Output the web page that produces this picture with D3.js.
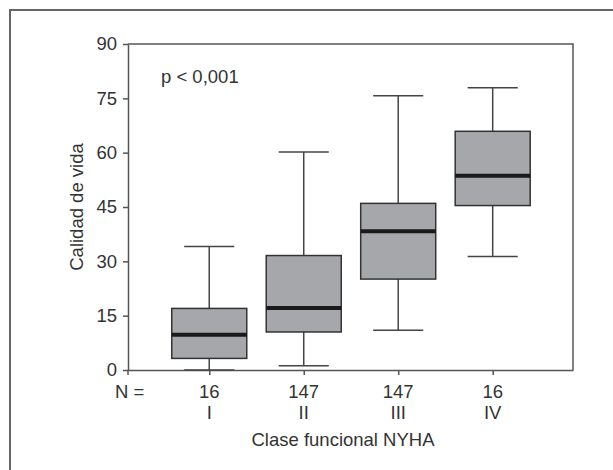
<!DOCTYPE html>
<html>
<head>
<meta charset="utf-8">
<script src="https://cdn.jsdelivr.net/npm/d3@7"></script>
<style>
  html, body { margin: 0; padding: 0; background: #fff; }
  text { font-family: "Liberation Sans", Arial, sans-serif; fill: #333; }
</style>
</head>
<body>
<div id="chart"></div>
<script>
// Datos del diagrama de cajas
const classes = ["I", "II", "III", "IV"];
const nValues = [16, 147, 147, 16];
const whiskerLow = [0, 1.2, 11.0, 31.3];
const q1 = [3.2, 10.5, 25.1, 45.4];
const medians = [9.7, 17.1, 38.3, 53.6];
const q3 = [17.0, 31.6, 46.0, 65.9];
const whiskerHigh = [34.1, 60.2, 75.7, 77.9];
const yTicks = [0, 15, 30, 45, 60, 75, 90];

const width = 613, height = 470;
const margin = { top: 44, right: 40, bottom: 100, left: 128 };
const fontSize = 18.5;

const svg = d3.select("#chart")
    .append("svg")
    .attr("width", width)
    .attr("height", height);

// Marco exterior (solo se ven arriba e izquierda)
svg.append("path")
    .attr("d", `M10,${height} V10 H${width}`)
    .attr("fill", "none")
    .attr("stroke", "#666")
    .attr("stroke-width", 2);

const x = d3.scaleLinear()
    .domain([0.14, 4.85])
    .range([margin.left, width - margin.right]);

const y = d3.scaleLinear()
    .domain([0, 90])
    .range([height - margin.bottom, margin.top]);

const boxHalf = (x(1.397) - x(1)), capHalf = (x(1.265) - x(1));

const data = classes.map((c, i) => ({
    cls: c, n: nValues[i], pos: i + 1,
    lo: whiskerLow[i], q1: q1[i], med: medians[i], q3: q3[i], hi: whiskerHigh[i]
}));

// Eje Y
const yAxis = svg.append("g")
    .attr("transform", `translate(${margin.left},0)`)
    .call(d3.axisLeft(y).tickValues(yTicks).tickSize(5).tickSizeOuter(0).tickPadding(6));
yAxis.select(".domain").attr("stroke", "#555").attr("stroke-width", 1.5);
yAxis.selectAll(".tick line").attr("stroke", "#555").attr("stroke-width", 1.5);
yAxis.selectAll(".tick text").attr("font-size", fontSize).style("font-family", "'Liberation Sans', Arial, sans-serif").attr("fill", "#333");

// Eje X (ticks hacia abajo en cada clase)
const xAxis = svg.append("g")
    .attr("transform", `translate(0,${y(0)})`)
    .call(d3.axisBottom(x).tickValues(data.map(d => d.pos)).tickSize(5).tickSizeOuter(0).tickFormat(""));
xAxis.select(".domain").attr("stroke", "#555").attr("stroke-width", 1.5);
xAxis.selectAll(".tick line").attr("stroke", "#555").attr("stroke-width", 1.5);

// prolongación del eje Y bajo el cero
svg.append("line")
    .attr("x1", margin.left).attr("x2", margin.left)
    .attr("y1", y(0)).attr("y2", y(0) + 5)
    .attr("stroke", "#555").attr("stroke-width", 1.5);

// Borde superior y derecho del área de trazado
svg.append("path")
    .attr("d", `M${margin.left},${y(90)} H${x.range()[1]} V${y(0)}`)
    .attr("fill", "none")
    .attr("stroke", "#555")
    .attr("stroke-width", 1.5);

// Cajas
const box = svg.append("g").selectAll("g")
    .data(data)
    .enter().append("g");

box.append("line")
    .attr("x1", d => x(d.pos)).attr("x2", d => x(d.pos))
    .attr("y1", d => y(d.q3)).attr("y2", d => y(d.hi))
    .attr("stroke", "#444").attr("stroke-width", 1.5);
box.append("line")
    .attr("x1", d => x(d.pos)).attr("x2", d => x(d.pos))
    .attr("y1", d => y(d.q1)).attr("y2", d => y(d.lo))
    .attr("stroke", "#444").attr("stroke-width", 1.5);
box.append("line")
    .attr("x1", d => x(d.pos) - capHalf).attr("x2", d => x(d.pos) + capHalf)
    .attr("y1", d => y(d.hi)).attr("y2", d => y(d.hi))
    .attr("stroke", "#444").attr("stroke-width", 1.5);
box.append("line")
    .attr("x1", d => x(d.pos) - capHalf).attr("x2", d => x(d.pos) + capHalf)
    .attr("y1", d => y(d.lo)).attr("y2", d => y(d.lo))
    .attr("stroke", "#444").attr("stroke-width", 1.5);

box.append("rect")
    .attr("x", d => x(d.pos) - boxHalf)
    .attr("width", boxHalf * 2)
    .attr("y", d => y(d.q3))
    .attr("height", d => y(d.q1) - y(d.q3))
    .attr("fill", "#a6a7aa")
    .attr("stroke", "#333")
    .attr("stroke-width", 1.5);

box.append("line")
    .attr("x1", d => x(d.pos) - boxHalf).attr("x2", d => x(d.pos) + boxHalf)
    .attr("y1", d => y(d.med)).attr("y2", d => y(d.med))
    .attr("stroke", "#1a1a1a").attr("stroke-width", 4);

// Etiquetas N y clase
svg.append("text")
    .attr("x", 115).attr("y", 398)
    .attr("font-size", fontSize)
    .text("N =");

svg.append("g").selectAll("text.n")
    .data(data)
    .enter().append("text")
    .attr("x", d => x(d.pos)).attr("y", 398)
    .attr("text-anchor", "middle")
    .attr("font-size", fontSize)
    .text(d => d.n);

svg.append("g").selectAll("text.cls")
    .data(data)
    .enter().append("text")
    .attr("x", d => x(d.pos)).attr("y", 418.5)
    .attr("text-anchor", "middle")
    .attr("font-size", fontSize)
    .text(d => d.cls);

// Títulos de ejes
svg.append("text")
    .attr("x", 343).attr("y", 446)
    .attr("text-anchor", "middle")
    .attr("font-size", fontSize)
    .text("Clase funcional NYHA");

svg.append("text")
    .attr("transform", `translate(83,${(y(0) + y(90)) / 2}) rotate(-90)`)
    .attr("text-anchor", "middle")
    .attr("font-size", fontSize)
    .text("Calidad de vida");

// Significación
svg.append("text")
    .attr("x", 161).attr("y", 83)
    .attr("font-size", fontSize)
    .text("p < 0,001");
</script>
</body>
</html>
